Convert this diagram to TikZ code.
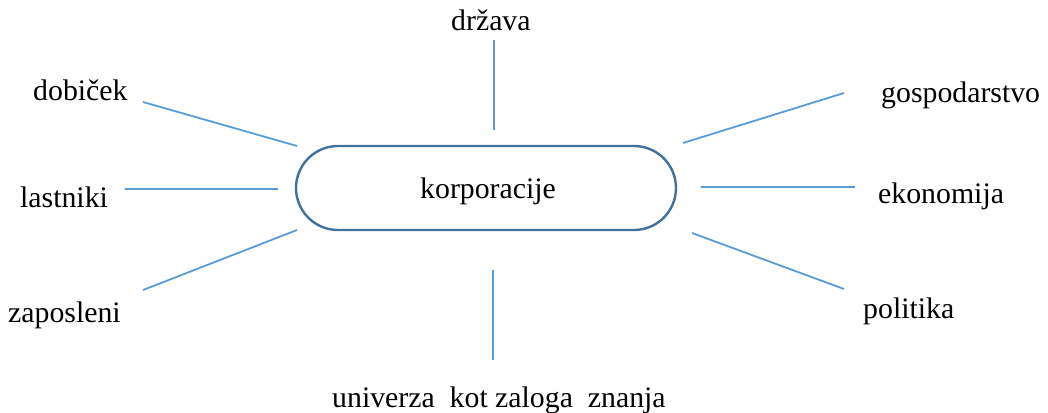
\documentclass[tikz,border=0pt]{standalone}
\usepackage{fontspec}
\setmainfont{Liberation Serif}
\definecolor{spoke}{HTML}{5B9BD5}
\definecolor{rim}{HTML}{41719C}
\tikzset{
  lbl/.style={inner sep=0pt, anchor=base west, font=\fontsize{29.8}{35}\selectfont},
  spokeline/.style={draw=spoke, line width=1.8pt},
  hub/.style={draw=rim, line width=2.4pt, rounded corners=42pt, minimum width=380pt, minimum height=84pt, inner sep=0pt}
}
\begin{document}
\begin{tikzpicture}[x=1pt,y=-1pt]
\useasboundingbox (0,0) rectangle (1048,412);
% hub
\node[hub] (hub) at (486,188) {};
\node[lbl] (kor) at (420,198) {korporacije};
% labels
\node[lbl] (drz) at (451,31) {država};
\node[lbl] (dob) at (33,100) {dobiček};
\node[lbl] (las) at (20,207) {lastniki};
\node[lbl] (zap) at (8,322) {zaposleni};
\node[lbl] (gos) at (881,102) {gospodarstvo};
\node[lbl] (eko) at (878,203) {ekonomija};
\node[lbl] (pol) at (863,318) {politika};
\node[lbl] (uni) at (332,407) {univerza\ \ kot zaloga\ \ znanja};
% spoke ends
\coordinate (a1) at (494,40);  \coordinate (a2) at (494,130);
\coordinate (b1) at (143,102); \coordinate (b2) at (297,146);
\coordinate (c1) at (125,189); \coordinate (c2) at (278,189);
\coordinate (d1) at (143,290); \coordinate (d2) at (297,230);
\coordinate (e1) at (844,93);  \coordinate (e2) at (683,143);
\coordinate (f1) at (855,187); \coordinate (f2) at (701,187);
\coordinate (g1) at (844,289); \coordinate (g2) at (692,233);
\coordinate (h1) at (493,360); \coordinate (h2) at (493,270);
\draw[spokeline] (a1) -- (a2);
\draw[spokeline] (b1) -- (b2);
\draw[spokeline] (c1) -- (c2);
\draw[spokeline] (d1) -- (d2);
\draw[spokeline] (e1) -- (e2);
\draw[spokeline] (f1) -- (f2);
\draw[spokeline] (g1) -- (g2);
\draw[spokeline] (h1) -- (h2);
\end{tikzpicture}
\end{document}
